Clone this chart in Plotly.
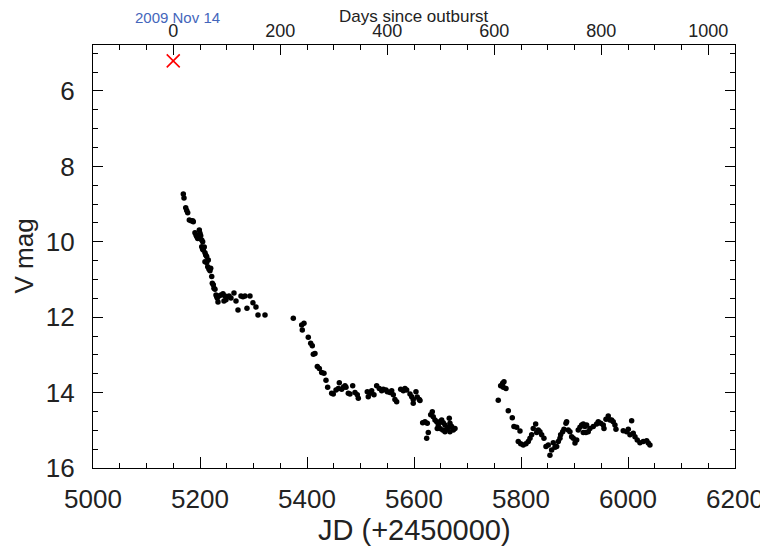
import plotly.graph_objects as go

# ---- data (JD - 2450000, V magnitude) ----
jd = [
    5168.8, 5170.1, 5173.3, 5175.1, 5177.0, 5180.0, 5183.2, 5186.3, 5187.5, 5190.6,
    5192.5, 5193.8, 5195.7, 5198.7, 5200.0, 5201.3, 5203.2, 5205.0, 5203.2, 5205.0,
    5206.2, 5208.0, 5209.3, 5210.6, 5212.5, 5209.3, 5212.5, 5215.5, 5214.4, 5216.8,
    5218.7, 5220.0, 5221.9, 5223.0, 5224.8, 5226.1, 5228.0, 5229.9, 5231.2, 5232.3,
    5235.5, 5239.2, 5243.0, 5246.7, 5250.4, 5254.2, 5257.9, 5233.6, 5244.8, 5248.6,
    5263.5, 5267.3, 5271.0, 5276.6, 5280.3, 5284.1, 5287.8, 5293.4, 5299.0, 5304.6,
    5308.4, 5321.5,
    5374.4, 5390.1, 5394.4, 5391.2, 5402.4, 5406.9, 5409.9, 5411.8, 5414.9, 5419.3,
    5423.0, 5427.4, 5431.7, 5435.5, 5438.6, 5446.1, 5449.1, 5454.2, 5458.5, 5460.4,
    5464.8, 5467.9, 5471.0, 5472.9, 5477.2, 5480.3, 5485.4, 5489.7, 5494.0, 5495.9,
    5512.7, 5514.5, 5517.7, 5520.9, 5525.2, 5530.2, 5535.1, 5539.6, 5542.6, 5547.6,
    5550.1, 5555.1, 5558.3, 5561.3, 5564.4, 5567.6, 5575.1, 5580.0, 5583.1, 5586.3,
    5592.5, 5595.7, 5598.6, 5603.7, 5606.1, 5609.9, 5611.2, 5598.6,
    5616.2, 5620.5, 5624.8, 5626.7, 5623.7, 5631.2, 5634.2, 5636.0, 5639.2, 5642.4,
    5645.4, 5643.5, 5648.5, 5651.7, 5654.7, 5657.9, 5648.5, 5653.6, 5657.9, 5661.1,
    5664.1, 5665.9, 5667.2, 5670.4, 5673.4, 5676.6, 5667.2,
    5757.5, 5762.0, 5765.7, 5768.2, 5771.9, 5766.9, 5776.2, 5783.7, 5786.8, 5791.9,
    5798.1, 5794.9, 5799.4, 5804.2, 5809.3, 5813.6, 5816.8, 5819.9, 5822.9, 5827.4,
    5829.3, 5832.3, 5835.4, 5838.6, 5842.9, 5846.7, 5851.0, 5854.1, 5857.3, 5860.3,
    5863.5, 5866.7, 5869.7, 5872.8, 5874.1, 5877.9, 5880.3, 5884.0, 5885.3, 5888.3,
    5891.5, 5894.7, 5897.7, 5900.9, 5904.1, 5907.0, 5910.2, 5913.4, 5916.4, 5919.5,
    5922.7, 5925.7, 5921.4, 5916.4, 5928.9, 5935.1, 5941.4, 5944.4, 5948.9, 5953.8,
    5955.1, 5958.8, 5963.1, 5966.3, 5969.4, 5972.4, 5975.6, 5977.5, 5991.1, 5997.5,
    6000.5, 6006.8, 6003.7, 6009.8, 6013.0, 6017.3, 6022.3, 6028.5, 6034.9, 6037.9,
    6041.0,
]
vmag = [
    8.73, 8.84, 9.10, 9.17, 9.23, 9.42, 9.44, 9.44, 9.47, 9.76,
    9.82, 9.86, 9.91, 9.69, 9.77, 9.84, 9.95, 10.00, 10.13, 10.20,
    10.22, 10.14, 10.29, 10.35, 10.39, 10.53, 10.55, 10.48, 10.66, 10.73,
    10.77, 10.70, 10.92, 11.10, 11.14, 11.23, 11.26, 11.41, 11.45, 11.49,
    11.44, 11.41, 11.38, 11.44, 11.46, 11.44, 11.49, 11.60, 11.57, 11.54,
    11.36, 11.57, 11.81, 11.44, 11.46, 11.44, 11.76, 11.44, 11.62, 11.73,
    11.94, 11.94,
    12.03, 12.21, 12.16, 12.34, 12.53, 12.69, 12.76, 12.98, 12.96, 13.31,
    13.36, 13.47, 13.49, 13.67, 13.86, 14.02, 14.04, 13.93, 13.89, 13.74,
    13.91, 13.86, 13.82, 13.86, 14.02, 14.04, 13.82, 14.00, 14.06, 14.15,
    13.98, 14.11, 14.02, 13.95, 14.06, 13.82, 13.89, 13.95, 13.91, 13.93,
    13.98, 14.00, 13.95, 14.06, 14.18, 14.24, 13.91, 13.95, 13.89, 13.93,
    14.04, 14.11, 14.18, 13.98, 14.12, 14.18, 14.21, 14.28,
    14.80, 14.77, 14.81, 15.06, 15.21, 14.59, 14.51, 14.64, 14.73, 14.77,
    14.86, 14.95, 14.77, 14.73, 14.80, 14.86, 14.95, 14.99, 15.04, 14.97,
    14.92, 14.68, 14.81, 14.90, 14.99, 14.95, 15.04,
    14.20, 13.82, 13.75, 13.71, 13.89, 13.86, 14.48, 14.67, 14.90, 14.92,
    15.02, 15.30, 15.36, 15.39, 15.36, 15.30, 15.21, 15.12, 14.95, 14.83,
    15.06, 14.99, 15.04, 15.12, 15.21, 15.43, 15.39, 15.66, 15.52, 15.33,
    15.45, 15.43, 15.30, 15.21, 15.12, 15.04, 14.97, 14.81, 14.77, 14.99,
    15.04, 15.17, 15.21, 15.34, 15.26, 14.99, 14.92, 14.86, 14.83, 14.90,
    14.86, 15.04, 15.06, 15.06, 14.95, 14.90, 14.83, 14.77, 14.81, 14.86,
    14.95, 14.71, 14.62, 14.73, 14.73, 14.77, 14.86, 14.97, 15.01, 15.04,
    14.97, 14.75, 15.12, 15.08, 15.17, 15.26, 15.33, 15.30, 15.28, 15.34,
    15.39,
]
outburst_jd = [5150]
outburst_mag = [5.2]
outburst_label = "2009 Nov 14"

x_range = [5000, 6200]
y_range = [16, 4.78]
x_ticks = [5000, 5200, 5400, 5600, 5800, 6000, 6200]
y_ticks = [6, 8, 10, 12, 14, 16]
day_ticks = [0, 200, 400, 600, 800, 1000]

FONT = "Liberation Sans"
TXT = "#222222"

fig = go.Figure()
fig.add_trace(go.Scatter(
    x=jd, y=vmag, mode="markers",
    marker=dict(color="black", size=5.5, line=dict(width=0)),
    showlegend=False, xaxis="x", yaxis="y",
))
fig.add_trace(go.Scatter(
    x=outburst_jd, y=outburst_mag, mode="markers",
    marker=dict(symbol="x-thin-open", size=13, color="red",
                line=dict(color="red", width=1.6)),
    showlegend=False, xaxis="x", yaxis="y",
))

days_range = [x_range[0] - outburst_jd[0], x_range[1] - outburst_jd[0]]

axis_common = dict(
    showgrid=False, zeroline=False, showline=True, linecolor="black", linewidth=1.3,
    ticks="inside", tickcolor="black", tickwidth=1.2, automargin=False,
)

# the page body adds an 8 px offset, so the figure is 760x539
fig.update_layout(
    width=760, height=539,
    margin=dict(l=85, r=33, t=37, b=79),
    paper_bgcolor="white", plot_bgcolor="white",
    font=dict(family=FONT, color=TXT),
    xaxis=dict(
        range=x_range, tickvals=x_ticks, ticklen=11,
        minor=dict(dtick=50, tick0=5000, ticklen=5, ticks="inside", tickcolor="black", tickwidth=1.2),
        tickfont=dict(size=26, family=FONT, color=TXT),
        ticklabelstandoff=8,
        **axis_common,
    ),
    xaxis2=dict(
        range=days_range, overlaying="x", side="top", anchor="y",
        tickvals=day_ticks, ticklen=10,
        minor=dict(dtick=50, tick0=0, ticklen=5, ticks="inside", tickcolor="black", tickwidth=1.2),
        tickfont=dict(size=18, family=FONT, color=TXT),
        ticklabelstandoff=0,
        **axis_common,
    ),
    yaxis=dict(
        range=y_range, tickvals=y_ticks, ticklen=10, mirror="ticks",
        minor=dict(dtick=0.5, tick0=4, ticklen=5, ticks="inside", tickcolor="black", tickwidth=1.2),
        tickfont=dict(size=26, family=FONT, color=TXT),
        ticklabelstandoff=12,
        **axis_common,
    ),
)
# empty trace so the top (days) axis is drawn
fig.add_trace(go.Scatter(x=[None], y=[None], xaxis="x2", yaxis="y", showlegend=False))

fig.add_annotation(text="JD (+2450000)", xref="paper", yref="paper", x=0.5, y=0,
                   yshift=-62, showarrow=False, font=dict(size=29, family=FONT, color=TXT),
                   yanchor="middle")
fig.add_annotation(text="V mag", xref="paper", yref="paper", x=0, y=0.5, xshift=-70,
                   textangle=-90, showarrow=False, font=dict(size=26, family=FONT, color=TXT),
                   xanchor="center")
fig.add_annotation(text="Days since outburst", xref="paper", yref="paper", x=0.5, y=1,
                   yshift=29, showarrow=False, font=dict(size=17, family=FONT, color=TXT),
                   yanchor="middle")
fig.add_annotation(text=outburst_label, xref="x", yref="paper", x=outburst_jd[0] + 7, y=1,
                   yshift=28, showarrow=False, font=dict(size=15, family=FONT, color="#4466bb"),
                   yanchor="middle")

fig.write_html("out.html")
